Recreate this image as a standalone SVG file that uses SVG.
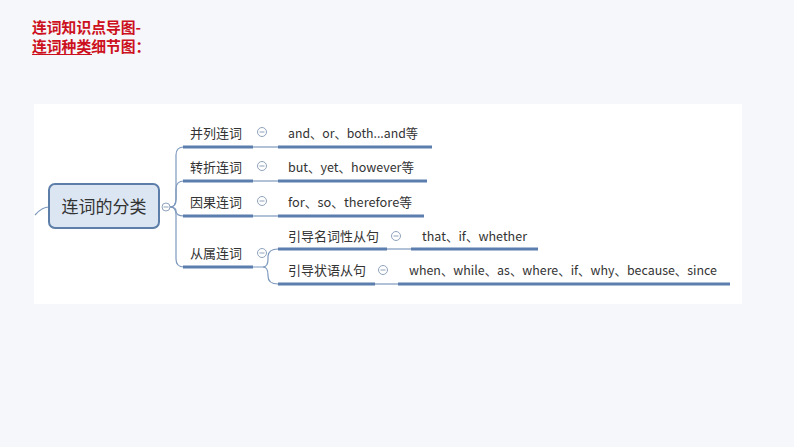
<svg xmlns="http://www.w3.org/2000/svg" width="794" height="447" viewBox="0 0 794 447">
<style>
.t{font-family:"Noto Sans CJK SC","Liberation Sans",sans-serif;font-size:13px;fill:#333}
.title{font-family:"Noto Sans CJK SC","Liberation Serif",serif;font-size:14.8px;fill:#cc1020;font-weight:bold}
.ul{stroke:#5b7eae;stroke-width:3;fill:none;stroke-linecap:butt}
.thin{stroke:#7d98bd;stroke-width:1.2;fill:none}
.tog circle{fill:#fff;stroke:#8fa3bd;stroke-width:1}
.tog line{stroke:#8fa3bd;stroke-width:1}
</style>
<rect width="794" height="447" fill="#f6f7fa"/>
<rect x="34" y="104" width="708" height="200" fill="#ffffff"/>
<g id="title">
<text class="title" x="32" y="33">连词知识点导图-</text>
<text class="title" x="32" y="52">连词种类细节图：</text>
<line x1="32" y1="54.5" x2="92" y2="54.5" stroke="#cc1020" stroke-width="1"/>
</g>
<g id="connectors">
<path class="thin" d="M35,215 Q42,207 49,207"/>
<path class="thin" d="M170,207 Q176,207 176,199 L176,155 Q176,147 184,147"/>
<path class="thin" d="M170,207 Q176,207 176,199 L176,189 Q176,181 184,181"/>
<path class="thin" d="M170,207 Q176,207 176,211 Q176,216 184,216"/>
<path class="thin" d="M170,207 Q176,207 176,215 L176,259 Q176,267 184,267"/>
<line class="thin" x1="253" y1="147" x2="278" y2="147"/>
<line class="thin" x1="253" y1="181" x2="278" y2="181"/>
<line class="thin" x1="253" y1="216" x2="278" y2="216"/>
<path class="thin" d="M253,267 L263,267 Q268,267 268,259 L268,257 Q268,249 278,249"/>
<path class="thin" d="M263,267 Q268,267 268,275 L268,276 Q268,284 278,284"/>
<line class="thin" x1="387" y1="249" x2="411" y2="249"/>
<line class="thin" x1="375" y1="284" x2="398" y2="284"/>
</g>
<g id="root">
<rect x="49" y="184" width="110" height="44" rx="6" fill="#dce6f2" stroke="#5d7ea8" stroke-width="2"/>
<text class="t" x="104" y="213" text-anchor="middle" style="font-size:17px">连词的分类</text>
<g class="tog"><circle cx="166" cy="207" r="4"/><line x1="163.5" y1="207" x2="168.5" y2="207"/></g>
</g>
<g id="b1">
<text class="t" x="190" y="138">并列连词</text>
<line class="ul" x1="183" y1="147" x2="253" y2="147"/>
<g class="tog"><circle cx="262" cy="132" r="4.5"/><line x1="259.5" y1="132" x2="264.5" y2="132"/></g>
</g>
<g id="l1">
<text class="t" x="288" y="138" textLength="130" lengthAdjust="spacingAndGlyphs">and、or、both...and等</text>
<line class="ul" x1="278" y1="147" x2="432" y2="147"/>
</g>
<g id="b2">
<text class="t" x="190" y="172">转折连词</text>
<line class="ul" x1="183" y1="181" x2="253" y2="181"/>
<g class="tog"><circle cx="262" cy="166" r="4.5"/><line x1="259.5" y1="166" x2="264.5" y2="166"/></g>
</g>
<g id="l2">
<text class="t" x="288" y="172" textLength="126" lengthAdjust="spacingAndGlyphs">but、yet、however等</text>
<line class="ul" x1="278" y1="181" x2="427" y2="181"/>
</g>
<g id="b3">
<text class="t" x="190" y="207">因果连词</text>
<line class="ul" x1="183" y1="216" x2="253" y2="216"/>
<g class="tog"><circle cx="262" cy="201" r="4.5"/><line x1="259.5" y1="201" x2="264.5" y2="201"/></g>
</g>
<g id="l3">
<text class="t" x="288" y="207" textLength="124" lengthAdjust="spacingAndGlyphs">for、so、therefore等</text>
<line class="ul" x1="278" y1="216" x2="424" y2="216"/>
</g>
<g id="b4">
<text class="t" x="190" y="258">从属连词</text>
<line class="ul" x1="183" y1="267" x2="253" y2="267"/>
<g class="tog"><circle cx="262" cy="253" r="4.5"/><line x1="259.5" y1="253" x2="264.5" y2="253"/></g>
</g>
<g id="s1">
<text class="t" x="288" y="241">引导名词性从句</text>
<line class="ul" x1="278" y1="249" x2="387" y2="249"/>
<g class="tog"><circle cx="396" cy="236" r="4.5"/><line x1="393.5" y1="236" x2="398.5" y2="236"/></g>
</g>
<g id="s1l">
<text class="t" x="422" y="241" textLength="105" lengthAdjust="spacingAndGlyphs">that、if、whether</text>
<line class="ul" x1="411" y1="249" x2="538" y2="249"/>
</g>
<g id="s2">
<text class="t" x="288" y="275">引导状语从句</text>
<line class="ul" x1="278" y1="284" x2="375" y2="284"/>
<g class="tog"><circle cx="383" cy="270" r="4.5"/><line x1="380.5" y1="270" x2="385.5" y2="270"/></g>
</g>
<g id="s2l">
<text class="t" x="409" y="275" textLength="308" lengthAdjust="spacingAndGlyphs">when、while、as、where、if、why、because、since</text>
<line class="ul" x1="398" y1="284" x2="730" y2="284"/>
</g>
</svg>
